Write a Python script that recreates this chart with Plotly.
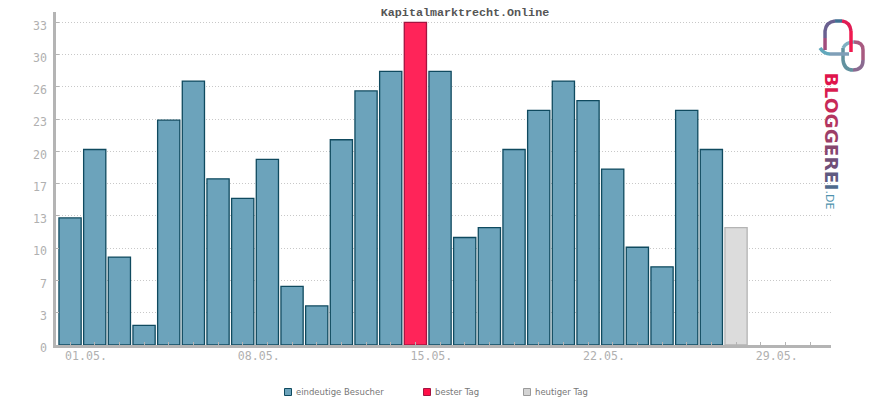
import plotly.graph_objects as go

# daily visitors, May (day 28 is today, day 15 the best day)
days = list(range(1, 29))
visitors = [13, 20, 9, 2, 23, 27, 17, 15, 19, 6, 4, 21, 26, 28, 33, 28, 11, 12,
            20, 24, 27, 25, 18, 10, 8, 24, 20, 12]
best_day = 15
today = 28
y_ticks = [0, 3.3, 6.6, 9.9, 13.2, 16.5, 19.8, 23.1, 26.4, 29.7, 33]
y_labels = ["0", "3", "7", "10", "13", "17", "20", "23", "26", "30", "33"]
x_ticks = list(range(1, 32))
x_labels = {1: "01.05.", 8: "08.05.", 15: "15.05.", 22: "22.05.", 29: "29.05."}
logo_letters = ["B", "L", "O", "G", "G", "E", "R", "E", "I"]
logo_colors = ["#e0144c", "#d81c50", "#c72a58", "#b33560", "#9c3e68", "#86476f",
               "#704f78", "#5f5a80", "#4f6a8c"]
legend_names = ["eindeutige Besucher", "bester Tag", "heutiger Tag"]

W, H = 870, 400
LEFT, RIGHT, TOP, BOTTOM = 56, 831, 12, 345


def px(x, y):
    return (x - LEFT) / (RIGHT - LEFT), (BOTTOM - y) / (BOTTOM - TOP)


def logo_path(cmds):
    # cmds: list of (letter, [points in page pixels])
    parts = []
    for cmd, pts in cmds:
        coords = " ".join("{:.4f},{:.4f}".format(*px(*p)) for p in pts)
        parts.append(cmd + coords)
    return " ".join(parts)


regular = [d for d in days if d not in (best_day, today)]
val = dict(zip(days, visitors))

fig = go.Figure()
fig.add_bar(x=regular, y=[val[d] for d in regular], name=legend_names[0], showlegend=False,
            marker=dict(color="#6ca3bb", line=dict(color="#0f4a5f", width=1.3)))
fig.add_bar(x=[best_day], y=[val[best_day]], name=legend_names[1], showlegend=False,
            marker=dict(color="#ff2459", line=dict(color="#a31440", width=1.3)))
fig.add_bar(x=[today], y=[val[today]], name=legend_names[2], showlegend=False,
            marker=dict(color="#dcdcdc", line=dict(color="#b4b4b4", width=1.3)))

# logo, two linked speech bubbles
logo_parts = [
    ([("M", [(843, 48)]), ("L", [(843, 60)]), ("Q", [(844, 70), (853, 70)])], "#62929f"),
    ([("M", [(853, 70)]), ("Q", [(863, 70), (863, 60)])], "#8a6a90"),
    ([("M", [(863, 60)]), ("L", [(863, 50)]), ("Q", [(863, 42), (854, 42)])], "#a85a80"),
    ([("M", [(854, 42)]), ("Q", [(846, 42), (843, 48)])], "#7fb0c2"),
    ([("M", [(820, 48)]), ("Q", [(824, 54), (830, 54)])], "#62a8bc"),
    ([("M", [(830, 54)]), ("L", [(849, 54)])], "#7f9fb8"),
    ([("M", [(825, 50)]), ("L", [(825, 38)])], "#a24c7c"),
    ([("M", [(825, 38)]), ("L", [(825, 31)]), ("Q", [(826, 22), (835, 21)])], "#6a6090"),
    ([("M", [(835, 21)]), ("L", [(842, 21)])], "#3f7092"),
    ([("M", [(842, 21)]), ("Q", [(850, 22), (851, 31)])], "#e01c54"),
    ([("M", [(851, 31)]), ("L", [(851, 52)])], "#f01a50"),
]
shapes = [
    dict(type="path", path=logo_path(cmds), xref="paper", yref="paper",
         line=dict(color=col, width=3.5), layer="above")
    for cmds, col in logo_parts
]

# legend row
legend_x = [284.5, 423.5, 523.5]
legend_fill = ["#6ca3bb", "#ff0f47", "#d4d4d4"]
legend_line = ["#0f4a5f", "#a31440", "#9a9a9a"]
for name, lx, fill, edge in zip(legend_names, legend_x, legend_fill, legend_line):
    x0, y0 = px(lx, 388.5)
    x1, y1 = px(lx + 7, 395.5)
    shapes.append(dict(type="rect", xref="paper", yref="paper", x0=x0, x1=x1, y0=y1, y1=y0,
                       fillcolor=fill, line=dict(color=edge, width=1)))
    tx, ty = px(lx + 9.5, 392)
    fig.add_annotation(text=name, xref="paper", yref="paper", x=tx, y=ty, showarrow=False,
                       xanchor="left", yanchor="middle",
                       font=dict(family="DejaVu Sans", size=8.5, color="#777777"))

logo_text = "".join(f'<span style="color:{c}">{l}</span>' for l, c in zip(logo_letters, logo_colors))
lx, ly = px(832, 131)
fig.add_annotation(text=logo_text, xref="paper", yref="paper", x=lx, y=ly, showarrow=False, xshift=12,
                   textangle=90, font=dict(family="DejaVu Sans", size=18.5, weight="bold"))
lx, ly = px(829, 200)
fig.add_annotation(text=".DE", xref="paper", yref="paper", x=lx, y=ly, showarrow=False, xshift=8,
                   textangle=90, font=dict(family="DejaVu Sans", size=11, color="#4f93ae"))

fig.update_layout(
    width=W, height=H,
    autosize=False,
    barmode="overlay",
    bargap=0.1,
    paper_bgcolor="white",
    plot_bgcolor="white",
    margin=dict(l=LEFT, r=W - RIGHT, t=TOP, b=H - BOTTOM, autoexpand=False),
    title=dict(text="<b>Kapitalmarktrecht.Online</b>", x=465 / W, xanchor="center", y=1 - 12 / H, yanchor="middle",
               font=dict(family="Liberation Mono", size=11.7, color="#555555")),
    font=dict(family="DejaVu Sans Mono", color="#b9b9b9", size=12),
    shapes=shapes,
    showlegend=False,
)
fig.update_xaxes(range=[0.43, 31.85], tickmode="array", tickvals=x_ticks,
                 ticktext=[x_labels.get(d, "") for d in x_ticks], ticklabelshift=16, ticklabelstandoff=-2,
                 showgrid=False, zeroline=False, showline=True, linecolor="#b4b4b4", linewidth=2.5,
                 ticks="inside", ticklen=3, tickcolor="#b4b4b4", tickwidth=1,
                 tickfont=dict(family="DejaVu Sans Mono", size=11.6, color="#b0b0b0"))
fig.update_yaxes(range=[0, 34.07], tickmode="array", tickvals=y_ticks, ticktext=y_labels, ticklabelshift=3,
                 ticklabelstandoff=4,
                 showgrid=True, gridcolor="#c8c8c8", griddash="1px,2px", gridwidth=1,
                 zeroline=False, showline=True, linecolor="#b4b4b4", linewidth=2.5,
                 ticks="inside", ticklen=3, tickcolor="#b4b4b4", tickwidth=1,
                 tickfont=dict(family="DejaVu Sans Mono", size=11.6, color="#b0b0b0"))

# page margin would push the chart 8px off
fig.write_html("out.html", config={"displayModeBar": False}, post_script="document.body.style.margin='0';")
